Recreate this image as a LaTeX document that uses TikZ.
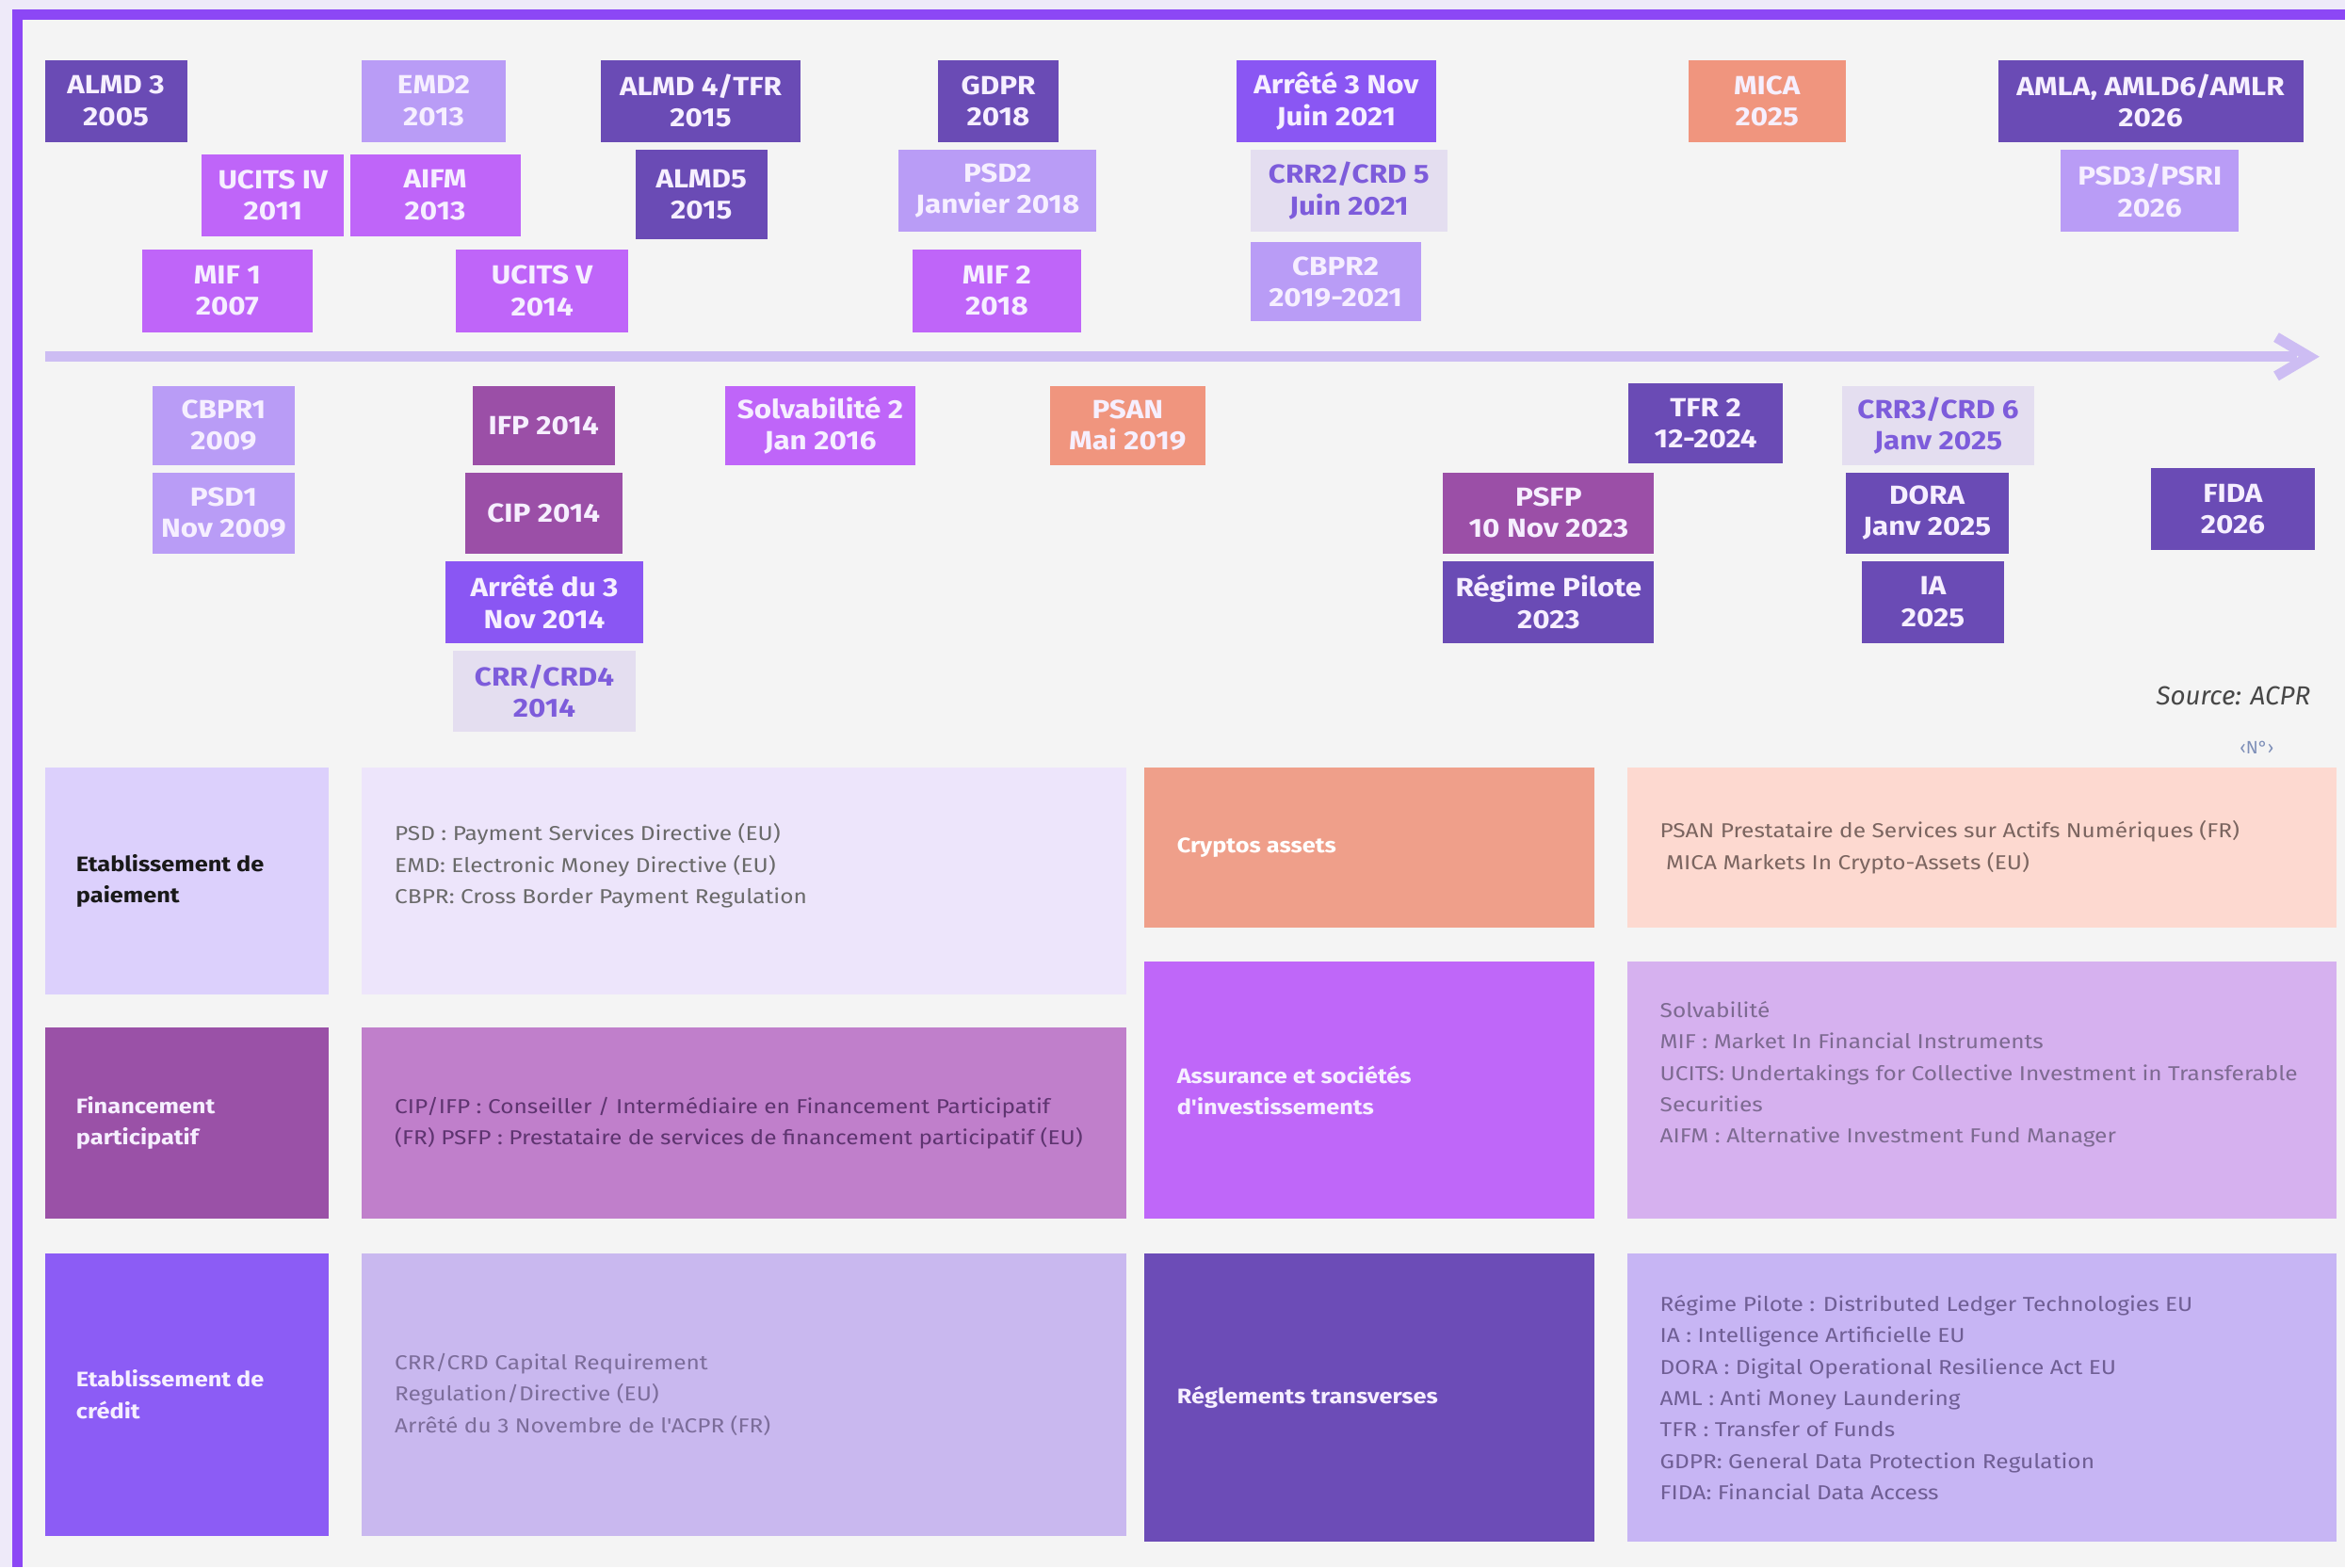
\documentclass[tikz,border=0pt]{standalone}
\usepackage{fontspec}
\setmainfont{Fira Sans}
\newfontfamily\tlfont[FakeStretch=1.13]{Fira Sans}
\newfontfamily\descfont[FakeStretch=1.14]{Fira Sans}
\definecolor{outerbg}{HTML}{EEEAF9}
\definecolor{innerbg}{HTML}{F4F4F4}
\definecolor{framec}{HTML}{8C47F5}
\definecolor{arrowc}{HTML}{CDBDF3}
\definecolor{cdark}{HTML}{6A4BB5}
\definecolor{clight}{HTML}{B99CF6}
\definecolor{cviolet}{HTML}{8A56F3}
\definecolor{cmagenta}{HTML}{BF65F9}
\definecolor{ccrowd}{HTML}{9B4FA7}
\definecolor{cgray}{HTML}{E4DEF0}
\definecolor{cgraytext}{HTML}{7D5CDB}
\definecolor{csalmon}{HTML}{F0957E}
\definecolor{tltext}{HTML}{F6EFFF}
\definecolor{aone}{HTML}{DCD0FC}
\definecolor{atwo}{HTML}{EDE5FB}
\definecolor{athree}{HTML}{EF9F8A}
\definecolor{afour}{HTML}{FDD9D0}
\definecolor{bone}{HTML}{9A51A7}
\definecolor{btwo}{HTML}{C07FCB}
\definecolor{bthree}{HTML}{BF67F9}
\definecolor{bfour}{HTML}{D6B1EF}
\definecolor{cone}{HTML}{8C5CF5}
\definecolor{ctwo}{HTML}{C9B8EF}
\definecolor{cthree}{HTML}{6C4CB7}
\definecolor{cfour}{HTML}{C7B5F4}
\definecolor{dAtwo}{HTML}{6A6A6A}
\definecolor{dAfour}{HTML}{7B6560}
\definecolor{dBtwo}{HTML}{5E3470}
\definecolor{dBfour}{HTML}{7D6A91}
\definecolor{dCtwo}{HTML}{7C6D9A}
\definecolor{dCfour}{HTML}{6F5E94}
\definecolor{pgnoc}{HTML}{7E8FB8}
\begin{document}
\begin{tikzpicture}[x=1pt,y=-1pt,
  tl/.style={rectangle, inner sep=0pt, align=center, text=tltext,
    font=\tlfont\bfseries\fontsize{17.5}{21}\selectfont},
  cell/.style={rectangle, inner sep=0pt, draw=none},
  lbl/.style={anchor=west, align=left, inner sep=0pt,
    font=\descfont\bfseries\fontsize{14}{21}\selectfont},
  desc/.style={anchor=west, align=left, inner sep=0pt,
    font=\descfont\fontsize{13.5}{21}\selectfont}]
\useasboundingbox (0,0) rectangle (1568,1048);
\fill[outerbg] (0,0) rectangle (1568,1048);
\fill[innerbg] (8,6) rectangle (1568,1048);
\fill[framec] (8,6) rectangle (1568,13);
\fill[framec] (8,6) rectangle (15,1048);
% timeline
\coordinate (tlstart) at (30,238.5);
\coordinate (tlend) at (1536,238.5);
\draw[arrowc, line width=7] (tlstart) -- (tlend);
\draw[arrowc, line width=7, line join=miter] ([shift={(-14,-13)}]tlend) -- ([xshift=8]tlend) -- ([shift={(-14,13)}]tlend);
% row 1
\node[tl, fill=cdark, minimum width=95, minimum height=55] (almd3) at (77.5,67.5) {ALMD 3\\2005};
\node[tl, fill=clight, minimum width=96, minimum height=55] (emd2) at (290,67.5) {EMD2\\2013};
\node[tl, fill=cdark, minimum width=133, minimum height=55] (almd4) at (468.5,67.5) {ALMD 4/TFR\\2015};
\node[tl, fill=cdark, minimum width=81, minimum height=55] (gdpr) at (667.5,67.5) {GDPR\\2018};
\node[tl, fill=cviolet, minimum width=133, minimum height=55] (arr21) at (893.5,67.5) {Arrêté 3 Nov\\Juin 2021};
\node[tl, fill=csalmon, minimum width=105, minimum height=55] (mica) at (1181.5,67.5) {MICA\\2025};
\node[tl, fill=cdark, minimum width=204, minimum height=55] (amla) at (1438,67.5) {AMLA, AMLD6/AMLR\\2026};
% row 2
\node[tl, fill=cmagenta, minimum width=95, minimum height=55] (ucits4) at (182.5,130.5) {UCITS IV\\2011};
\node[tl, fill=cmagenta, minimum width=114, minimum height=55] (aifm) at (291,130.5) {AIFM\\2013};
\node[tl, fill=cdark, minimum width=88, minimum height=60] (almd5) at (469,130) {ALMD5\\2015};
\node[tl, fill=clight, minimum width=132, minimum height=55] (psd2) at (667,127.5) {PSD2\\Janvier 2018};
\node[tl, fill=cgray, text=cgraytext, minimum width=132, minimum height=55] (crr2) at (902,127.5) {CRR2/CRD 5\\Juin 2021};
\node[tl, fill=clight, minimum width=119, minimum height=55] (psd3) at (1437.5,127.5) {PSD3/PSRI\\2026};
% row 3
\node[tl, fill=cmagenta, minimum width=114, minimum height=55] (mif1) at (152,194.5) {MIF 1\\2007};
\node[tl, fill=cmagenta, minimum width=115, minimum height=55] (ucits5) at (362.5,194.5) {UCITS V\\2014};
\node[tl, fill=cmagenta, minimum width=113, minimum height=55] (mif2) at (666.5,194.5) {MIF 2\\2018};
\node[tl, fill=clight, minimum width=114, minimum height=53] (cbpr2) at (893,188.5) {CBPR2\\2019-2021};
% below the line
\node[tl, fill=clight, minimum width=95, minimum height=53] (cbpr1) at (149.5,284.5) {CBPR1\\2009};
\node[tl, fill=clight, minimum width=95, minimum height=54] (psd1) at (149.5,343) {PSD1\\Nov 2009};
\node[tl, fill=ccrowd, minimum width=95, minimum height=53] (ifp) at (363.5,284.5) {IFP 2014};
\node[tl, fill=ccrowd, minimum width=105, minimum height=54] (cip) at (363.5,343) {CIP 2014};
\node[tl, fill=cviolet, minimum width=132, minimum height=55] (arr14) at (364,402.5) {Arrêté du 3\\Nov 2014};
\node[tl, fill=cgray, text=cgraytext, minimum width=122, minimum height=54] (crr4) at (364,462) {CRR/CRD4\\2014};
\node[tl, fill=cmagenta, minimum width=127, minimum height=53] (solv) at (548.5,284.5) {Solvabilité 2\\Jan 2016};
\node[tl, fill=csalmon, minimum width=104, minimum height=53] (psan) at (754,284.5) {PSAN\\Mai 2019};
\node[tl, fill=cdark, minimum width=103, minimum height=54] (tfr2) at (1140.5,283) {TFR 2\\12-2024};
\node[tl, fill=ccrowd, minimum width=141, minimum height=54] (psfp) at (1035.5,343) {PSFP\\10 Nov 2023};
\node[tl, fill=cdark, minimum width=141, minimum height=55] (regime) at (1035.5,402.5) {Régime Pilote\\2023};
\node[tl, fill=cgray, text=cgraytext, minimum width=128, minimum height=53] (crr3) at (1296,284.5) {CRR3/CRD 6\\Janv 2025};
\node[tl, fill=cdark, minimum width=109, minimum height=54] (dora) at (1288.5,343) {DORA\\Janv 2025};
\node[tl, fill=cdark, minimum width=95, minimum height=55] (ia) at (1292.5,402.5) {IA\\2025};
\node[tl, fill=cdark, minimum width=110, minimum height=55] (fida) at (1493,340.5) {FIDA\\2026};
% source
\node[anchor=east, inner sep=0pt, text=black!72, font=\itshape\fontsize{17.5}{20}\selectfont] (src) at (1545,465) {Source: ACPR};
\node[inner sep=0pt, text=pgnoc, font=\fontsize{12}{13}\selectfont] (pgno) at (1509,500) {‹N°›};
% bottom grid
\node[cell, fill=aone, minimum width=190, minimum height=152] (pay) at (125,589) {};
\node[cell, fill=atwo, minimum width=511, minimum height=152] (paydesc) at (497.5,589) {};
\node[cell, fill=athree, minimum width=301, minimum height=107] (cry) at (915.5,566.5) {};
\node[cell, fill=afour, minimum width=474, minimum height=107] (crydesc) at (1325,566.5) {};
\node[cell, fill=bone, minimum width=190, minimum height=128] (fin) at (125,751) {};
\node[cell, fill=btwo, minimum width=511, minimum height=128] (findesc) at (497.5,751) {};
\node[cell, fill=bthree, minimum width=301, minimum height=172] (ass) at (915.5,729) {};
\node[cell, fill=bfour, minimum width=474, minimum height=172] (assdesc) at (1325,729) {};
\node[cell, fill=cone, minimum width=190, minimum height=189] (cred) at (125,932.5) {};
\node[cell, fill=ctwo, minimum width=511, minimum height=189] (creddesc) at (497.5,932.5) {};
\node[cell, fill=cthree, minimum width=301, minimum height=193] (trans) at (915.5,934.5) {};
\node[cell, fill=cfour, minimum width=474, minimum height=193] (transdesc) at (1325,934.5) {};
% texts
\node[lbl, text=black!90] (payT) at ([xshift=21]pay.west) {Etablissement de\\paiement};
\node[desc, text=dAtwo] (paydescT) at ([xshift=22,yshift=10]paydesc.west) {PSD : Payment Services Directive (EU)\\EMD: Electronic Money Directive (EU)\\CBPR: Cross Border Payment Regulation};
\node[lbl, text=white] (cryT) at ([xshift=22]cry.west) {Cryptos assets};
\node[desc, text=dAfour] (crydescT) at ([xshift=22]crydesc.west) {PSAN Prestataire de Services sur Actifs Numériques (FR)\\\ MICA Markets In Crypto-Assets (EU)};
\node[lbl, text=tltext] (finT) at ([xshift=21]fin.west) {Financement\\participatif};
\node[desc, text=dBtwo] (findescT) at ([xshift=22]findesc.west) {CIP/IFP : Conseiller / Intermédiaire en Financement Participatif\\(FR) PSFP : Prestataire de services de financement participatif (EU)};
\node[lbl, text=tltext] (assT) at ([xshift=22]ass.west) {Assurance et sociétés\\d'investissements};
\node[desc, text=dBfour] (assdescT) at ([xshift=22,yshift=10.5]assdesc.west) {Solvabilité\\MIF : Market In Financial Instruments\\UCITS: Undertakings for Collective Investment in Transferable\\Securities\\AIFM : Alternative Investment Fund Manager};
\node[lbl, text=tltext] (transT) at ([xshift=22]trans.west) {Réglements transverses};
\node[lbl, text=tltext] (credT) at ([xshift=21]cred.west) {Etablissement de\\crédit};
\node[desc, text=dCtwo] (creddescT) at ([xshift=22]creddesc.west) {CRR/CRD Capital Requirement\\Regulation/Directive (EU)\\Arrêté du 3 Novembre de l'ACPR (FR)};
\node[desc, text=dCfour] (transdescT) at ([xshift=22]transdesc.west) {Régime Pilote : Distributed Ledger Technologies EU\\IA : Intelligence Artificielle EU\\DORA : Digital Operational Resilience Act EU\\AML : Anti Money Laundering\\TFR : Transfer of Funds\\GDPR: General Data Protection Regulation\\FIDA: Financial Data Access};
\end{tikzpicture}
\end{document}
